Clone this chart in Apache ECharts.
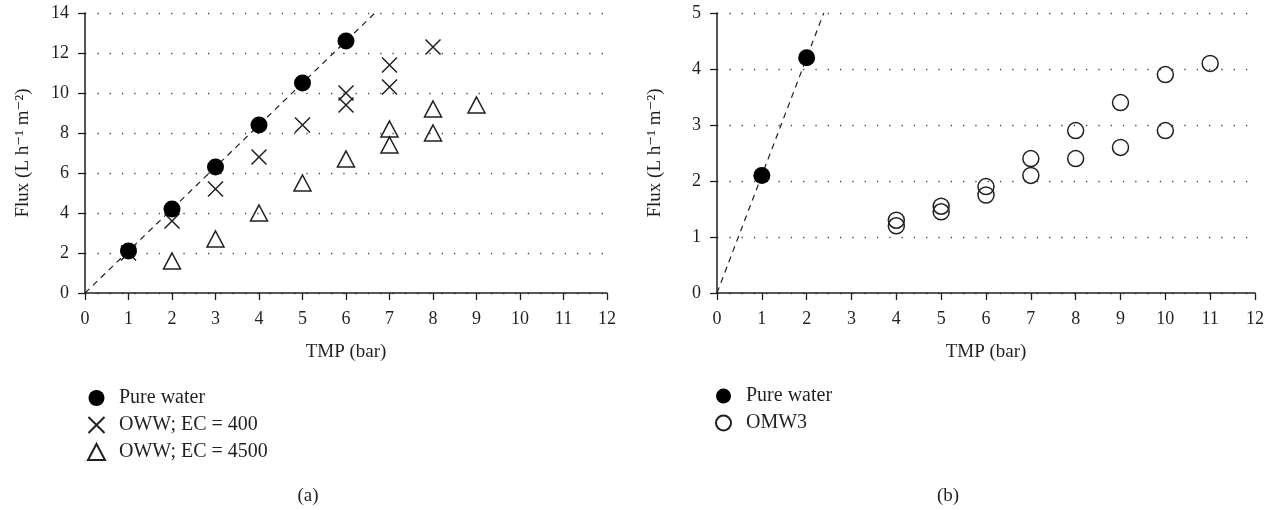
<!DOCTYPE html>
<html>
<head>
<meta charset="utf-8">
<script src="https://cdn.jsdelivr.net/npm/echarts@6/dist/echarts.min.js"></script>
<style>
  html, body { margin: 0; padding: 0; background: #fff; }
  #main { width: 1272px; height: 510px; }
</style>
</head>
<body>
<div id="main"></div>
<script>
// ---- data (a) ----
var pureA = [[1, 2.1], [2, 4.2], [3, 6.3], [4, 8.4], [5, 10.5], [6, 12.6]];
var oww400 = [[1, 2.0], [2, 3.6], [3, 5.2], [4, 6.8], [5, 8.4], [6, 10.0], [6, 9.4], [7, 11.4], [7, 10.3], [8, 12.3]];
var oww4500 = [[2, 1.6], [3, 2.7], [4, 4.0], [5, 5.5], [6, 6.7], [7, 8.2], [7, 7.4], [8, 9.2], [8, 8.0], [9, 9.4]];
// ---- data (b) ----
var pureB = [[1, 2.1], [2, 4.2]];
var omw3 = [[4, 1.3], [4, 1.2], [5, 1.55], [5, 1.45], [6, 1.9], [6, 1.75], [7, 2.4], [7, 2.1],
            [8, 2.9], [8, 2.4], [9, 3.4], [9, 2.6], [10, 3.9], [10, 2.9], [11, 4.1]];
// pure water trend line slope (flux per bar)
var pureSlope = 2.1;
var yMaxA = 14, yMaxB = 5;

var font = '"Liberation Serif", "DejaVu Serif", serif';
var ink = '#231f20';
var crossPath = 'path://M0,0L10,10M10,0L0,10';

function xAxisCfg(idx) {
    return {
        gridIndex: idx, type: 'value', min: 0, max: 12, interval: 1,
        name: 'TMP (bar)', nameLocation: 'middle', nameGap: 50,
        nameTextStyle: { fontFamily: font, fontSize: 19, color: ink },
        axisLine: { lineStyle: { color: ink, width: 1.5 } },
        axisTick: { show: true, length: 7, inside: false, lineStyle: { color: ink, width: 1.3 } },
        axisLabel: { fontFamily: font, fontSize: 18, color: ink, margin: 17 },
        splitLine: { show: false }
    };
}
function yAxisCfg(idx, max, interval) {
    return {
        gridIndex: idx, type: 'value', min: 0, max: max, interval: interval,
        name: 'Flux (L h⁻¹ m⁻²)', nameLocation: 'middle', nameGap: 52,
        nameRotate: 90,
        nameTextStyle: { fontFamily: font, fontSize: 19, color: ink },
        axisLine: { show: true, lineStyle: { color: ink, width: 1.5 } },
        axisTick: { show: true, length: 7, lineStyle: { color: ink, width: 1.3 } },
        axisLabel: { fontFamily: font, fontSize: 18, color: ink, margin: 16 },
        splitLine: { show: true, lineStyle: { color: '#444', width: 1.3, type: [1.3, 11] } }
    };
}
function fitLine(idx, yMax) {
    return {
        name: 'fit', type: 'line', xAxisIndex: idx, yAxisIndex: idx,
        data: [[0, 0], [yMax / pureSlope, yMax]],
        symbol: 'none', silent: true, z: 1,
        lineStyle: { color: ink, width: 1.2, type: [6, 5] }
    };
}
var openStyle = { color: 'rgba(0,0,0,0)', borderColor: ink, borderWidth: 1.5, opacity: 1 };
var solidStyle = { color: '#000', opacity: 1 };

var myChart = echarts.init(document.getElementById('main'));
var option = {
    animation: false,
    backgroundColor: '#fff',
    grid: [
        { left: 85, top: 13, width: 522, height: 280 },
        { left: 717, top: 13, width: 538, height: 280 }
    ],
    xAxis: [xAxisCfg(0), xAxisCfg(1)],
    yAxis: [yAxisCfg(0, yMaxA, 2), yAxisCfg(1, yMaxB, 1)],
    title: [
        { text: '(a)', left: 303, top: 482, textAlign: 'center',
          textStyle: { fontFamily: font, fontSize: 19, fontWeight: 'normal', color: ink } },
        { text: '(b)', left: 943, top: 482, textAlign: 'center',
          textStyle: { fontFamily: font, fontSize: 19, fontWeight: 'normal', color: ink } }
    ],
    legend: [
        { data: ['Pure water', 'OWW; EC = 400', 'OWW; EC = 4500'], orient: 'vertical',
          left: 82, top: 383, itemWidth: 17, itemHeight: 16, itemGap: 7,
          itemStyle: { opacity: 1 },
          textStyle: { fontFamily: font, fontSize: 20, color: ink, padding: [0, 0, 0, 9] } },
        { data: ['Pure water', 'OMW3'], orient: 'vertical',
          left: 710, top: 381, itemWidth: 15, itemHeight: 15, itemGap: 7,
          itemStyle: { opacity: 1 },
          textStyle: { fontFamily: font, fontSize: 20, color: ink, padding: [0, 0, 0, 10] } }
    ],
    series: [
        fitLine(0, yMaxA),
        { name: 'OWW; EC = 400', type: 'scatter', xAxisIndex: 0, yAxisIndex: 0, data: oww400,
          symbol: crossPath, symbolSize: 15, z: 2, itemStyle: openStyle },
        { name: 'OWW; EC = 4500', type: 'scatter', xAxisIndex: 0, yAxisIndex: 0, data: oww4500,
          symbol: 'triangle', symbolSize: [17, 16], z: 2, itemStyle: openStyle },
        { name: 'Pure water', type: 'scatter', xAxisIndex: 0, yAxisIndex: 0, data: pureA,
          symbol: 'circle', symbolSize: 17, z: 3, itemStyle: solidStyle },
        fitLine(1, yMaxB),
        { name: 'Pure water', type: 'scatter', xAxisIndex: 1, yAxisIndex: 1, data: pureB,
          symbol: 'circle', symbolSize: 17, z: 3, itemStyle: solidStyle },
        { name: 'OMW3', type: 'scatter', xAxisIndex: 1, yAxisIndex: 1, data: omw3,
          symbol: 'circle', symbolSize: 16, z: 2, itemStyle: openStyle }
    ]
};
myChart.setOption(option);
</script>
</body>
</html>
